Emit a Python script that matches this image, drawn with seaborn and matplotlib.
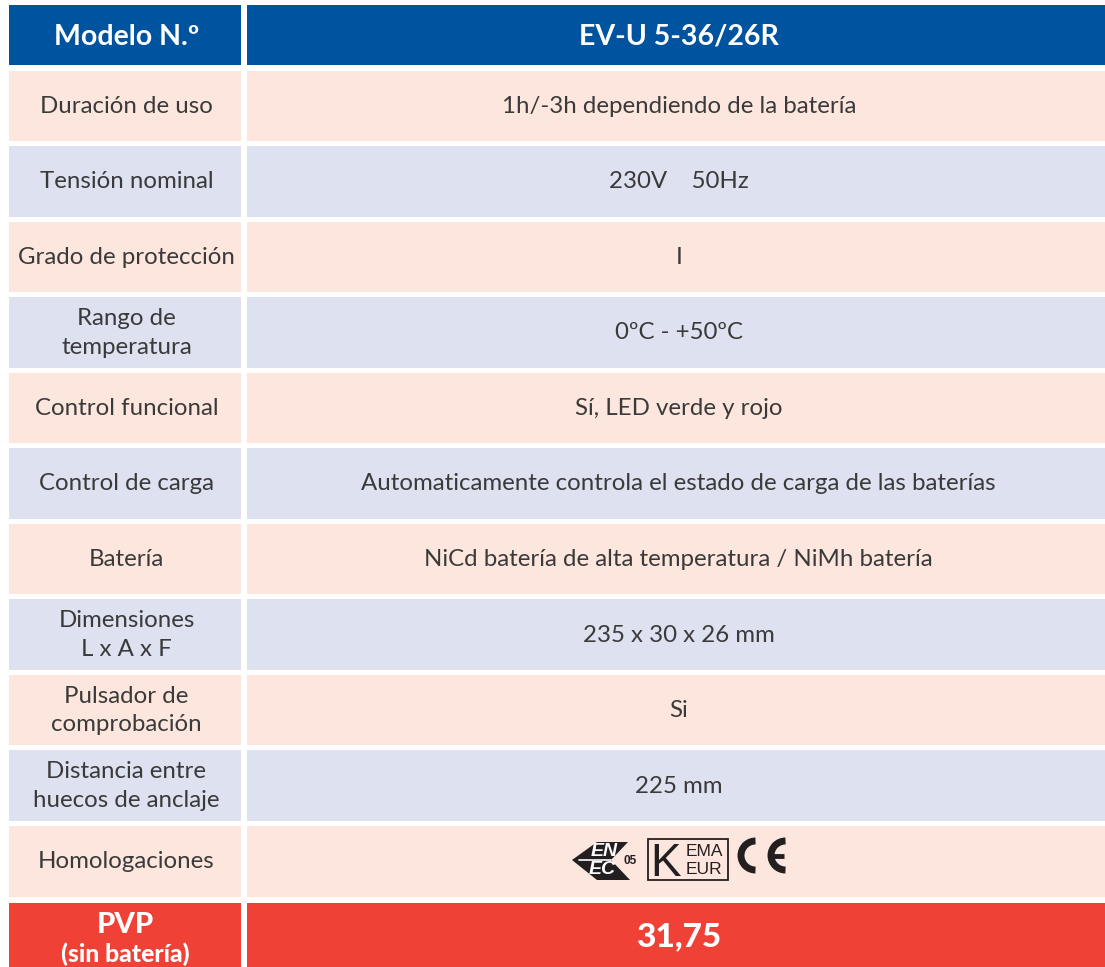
import numpy as np
import seaborn as sns
import matplotlib.pyplot as plt
from matplotlib.colors import ListedColormap
from matplotlib.patches import Arc, Polygon, Rectangle
from matplotlib.transforms import offset_copy

W, H = 1105, 967

# Datos de la tabla
modelo = 'EV-U 5-36/26R'
caracteristicas = ['Duración de uso', 'Tensión nominal', 'Grado de protección',
                   'Rango de\ntemperatura', 'Control funcional', 'Control de carga',
                   'Batería', 'Dimensiones\nL x A x F', 'Pulsador de\ncomprobación',
                   'Distancia entre\nhuecos de anclaje', 'Homologaciones']
valores = ['1h/-3h dependiendo de la batería', '230V    50Hz', 'I', '0ºC - +50ºC',
           'Sí, LED verde y rojo',
           'Automaticamente controla el estado de carga de las baterías',
           'NiCd batería de alta temperatura / NiMh batería', '235 x 30 x 26 mm',
           'Si', '225 mm', '']
tono_fila = [0, 1, 0, 1, 0, 1, 0, 1, 0, 1, 0]
precio = '31,75'

AZUL = '#00539F'
ROJO = '#F04136'
ROSA = '#FDE6DD'
LILA = '#DDE1F0'
TEXTO = '#3A3A3A'
GAP = 5 * 72 / 100

sns.set_theme(style='white')
plt.rcParams['font.family'] = ['Lato', 'DejaVu Sans']

fig = plt.figure(figsize=(W / 100, H / 100), dpi=100)


def eje(x0, y0, x1, y1):
    return fig.add_axes([x0 / W, 1 - y1 / H, (x1 - x0) / W, (y1 - y0) / H])


def celdas(ax, datos, textos, colores, dx=0, dy=0, **kws_txt):
    sns.heatmap(np.array(datos, dtype=float).reshape(-1, 1),
                annot=np.array(textos, dtype=object).reshape(-1, 1), fmt='',
                cmap=ListedColormap(colores), vmin=0, vmax=max(len(colores) - 1, 1),
                cbar=False, linewidths=GAP, linecolor='white',
                xticklabels=False, yticklabels=False, ax=ax, annot_kws=kws_txt)
    # pequeño ajuste en pixeles del texto
    for t in ax.texts:
        t.set_transform(offset_copy(t.get_transform(), fig=fig, x=dx, y=-dy, units='dots'))


txt_cuerpo = dict(fontsize=17.25, color=TEXTO, linespacing=1.45)
txt_cab = dict(fontsize=20.5, color='white', fontweight='bold')

# Cabecera
celdas(eje(5.5, 1.5, 242.5, 66.5), [0], ['Modelo N.º'], [AZUL], dx=2.5, dy=3, **txt_cab)
celdas(eje(243.5, 1.5, 1112, 66.5), [0], [modelo], [AZUL], dx=1, dy=3, **txt_cab)

# Cuerpo
celdas(eje(5.5, 67.5, 242.5, 898.5), tono_fila, caracteristicas, [ROSA, LILA], dx=2.5, dy=1, **txt_cuerpo)
celdas(eje(243.5, 67.5, 1112, 898.5), tono_fila, valores, [ROSA, LILA], dx=1, dy=1, **txt_cuerpo)

# PVP
ax_pvp = eje(5.5, 899.5, 242.5, 970)
celdas(ax_pvp, [0], [''], [ROJO])
ax_pvp.text(0.505, 0.36, 'PVP', ha='center', va='center', color='white', fontsize=21, fontweight='black')
ax_pvp.text(0.505, 0.77, '(sin batería)', ha='center', va='center', color='white', fontsize=17.8, fontweight='black')
celdas(eje(243.5, 899.5, 1112, 970), [0], [precio], [ROJO], dx=1, dy=2,
       fontsize=24, color='white', fontweight='black')

# Logos de homologación
logos = eje(0, 0, W, H)
logos.set_xlim(0, W)
logos.set_ylim(H, 0)
logos.axis('off')
logos.patch.set_alpha(0)

NEGRO = '#231F20'
logos.add_patch(Polygon([(572, 860), (597, 842), (628, 842), (611, 860), (630, 880), (597, 880)],
                        closed=True, color=NEGRO, lw=0))
logos.plot([579, 611], [860, 860], color='white', lw=1.2)
logos.text(604, 851, 'EN', color='white', fontsize=14, fontweight='bold', style='italic',
           ha='center', va='center', family='Liberation Sans')
logos.text(602, 870, 'EC', color='white', fontsize=14, fontweight='bold', style='italic',
           ha='center', va='center', family='Liberation Sans')
logos.text(630, 861, '05', color=NEGRO, fontsize=8.5, fontweight='bold',
           ha='center', va='center', family='Liberation Sans')

logos.add_patch(Rectangle((648, 839), 80, 41, fill=False, ec=NEGRO, lw=1.3))
logos.text(665, 859, 'K', color=NEGRO, fontsize=33, ha='center', va='center_baseline',
           family='Liberation Sans')
logos.text(704, 851, 'EMA', color=NEGRO, fontsize=12.5, ha='center', va='center',
           family='Liberation Sans')
logos.text(704, 869, 'EUR', color=NEGRO, fontsize=12.5, ha='center', va='center',
           family='Liberation Sans')

logos.add_patch(Arc((755.5, 855.5), 29, 29, theta1=90, theta2=270, color=NEGRO, lw=5))
logos.add_patch(Arc((785.5, 855.5), 29, 29, theta1=90, theta2=270, color=NEGRO, lw=5))
logos.plot([771, 784], [855.5, 855.5], color=NEGRO, lw=3.5, solid_capstyle='butt')

fig.savefig('out.png', dpi=100)
